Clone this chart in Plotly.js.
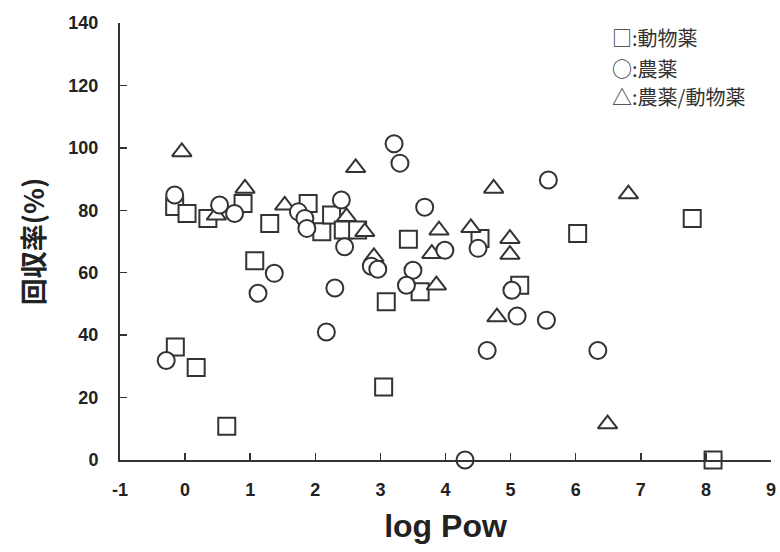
<!DOCTYPE html>
<html><head><meta charset="utf-8">
<script src="https://cdn.plot.ly/plotly-3.0.1.min.js"></script>
<style>body{margin:0;background:#fff}#chart{width:780px;height:552px}</style>
</head><body><div id="chart"></div>
<script>
// 動物薬 (squares)
const vetX = [-0.16,-0.15,0.03,0.17,0.35,0.64,0.89,1.07,1.30,1.89,2.10,2.25,2.43,2.65,3.05,3.09,3.43,3.61,4.53,5.14,6.03,7.79,8.11];
const vetY = [81.2,36.2,79.0,29.6,77.4,10.8,82.2,63.8,75.8,82.2,73.1,78.5,73.7,73.7,23.4,50.7,70.7,53.9,71.0,56.0,72.6,77.4,0];
// 農薬 (circles)
const pestX = [-0.16,-0.29,0.53,0.76,1.12,1.37,1.74,1.84,1.87,2.40,2.17,2.45,2.30,2.86,2.96,3.21,3.30,3.68,3.99,3.50,3.40,4.50,5.02,5.10,5.58,5.55,4.64,6.34,4.30];
const pestY = [84.9,31.9,81.7,79.0,53.4,59.8,79.5,77.4,74.2,83.3,41.0,68.3,55.1,62.1,61.1,101.3,95.1,81.0,67.2,60.8,56.0,67.8,54.4,46.1,89.7,44.8,35.1,35.1,0];
// 農薬/動物薬 (triangles)
const bothX = [-0.05,0.48,0.92,1.53,2.48,2.62,2.76,2.90,3.90,3.79,3.86,4.39,4.74,4.99,4.99,4.79,6.81,6.49];
const bothY = [99.3,79.0,87.6,82.2,78.5,94.2,73.7,65.7,74.2,66.7,56.6,75.0,87.6,71.5,66.4,46.4,85.8,12.1];
const xTicks = [-1,0,1,2,3,4,5,6,7,8,9];
const yTicks = [0,20,40,60,80,100,120,140];
const legendLabels = ["□:動物薬","○:農薬","△:農薬/動物薬"];

const lineCol = '#333';
function mk(sym){return {symbol:sym,size:17,color:'#fff',line:{color:lineCol,width:2}};}
const traces = [
  {x:vetX,y:vetY,mode:'markers',type:'scatter',marker:mk('square'),name:'動物薬',cliponaxis:false},
  {x:bothX,y:bothY.map(v=>v-0.6),mode:'markers',type:'scatter',marker:mk('triangle-up'),name:'農薬/動物薬',cliponaxis:false},
  {x:pestX,y:pestY,mode:'markers',type:'scatter',marker:mk('circle'),name:'農薬',cliponaxis:false}
];
const tickFont = {family:'Liberation Sans, Arial, sans-serif',size:18,color:'#222',weight:'bold'};
const legendY = [0.9657,0.897,0.8307];
const layout = {
  width:780,height:552,
  margin:{l:120,r:9,t:23,b:92},
  paper_bgcolor:'#fff',plot_bgcolor:'#fff',
  showlegend:false,
  xaxis:{range:[-1,9],tickvals:xTicks,ticktext:xTicks.map(String),showgrid:false,zeroline:false,
    showline:true,linecolor:lineCol,linewidth:2,ticks:'inside',ticklen:7,tickwidth:1.5,tickcolor:lineCol,
    tickfont:tickFont,ticklabelstandoff:12,
    title:{text:'<b>log Pow</b>',font:{family:'Liberation Sans, Arial, sans-serif',size:32,color:'#222'},standoff:16}},
  yaxis:{range:[0,140],tickvals:yTicks,ticktext:yTicks.map(String),showgrid:false,zeroline:false,
    showline:true,linecolor:lineCol,linewidth:2,ticks:'inside',ticklen:7,tickwidth:1.5,tickcolor:lineCol,
    tickfont:tickFont,ticklabelstandoff:16,
    title:{text:'<b>回収率(%)</b>',font:{family:'Noto Sans CJK JP, sans-serif',size:27,color:'#222'},standoff:16}},
  annotations: legendLabels.map((t,i)=>({xref:'paper',yref:'paper',x:0.7527,y:legendY[i],xanchor:'left',yanchor:'middle',
    text:t,showarrow:false,font:{family:'Noto Sans CJK JP, sans-serif',size:20,color:'#333'}}))
};
Plotly.newPlot('chart',traces,layout,{staticPlot:true});
</script></body></html>
